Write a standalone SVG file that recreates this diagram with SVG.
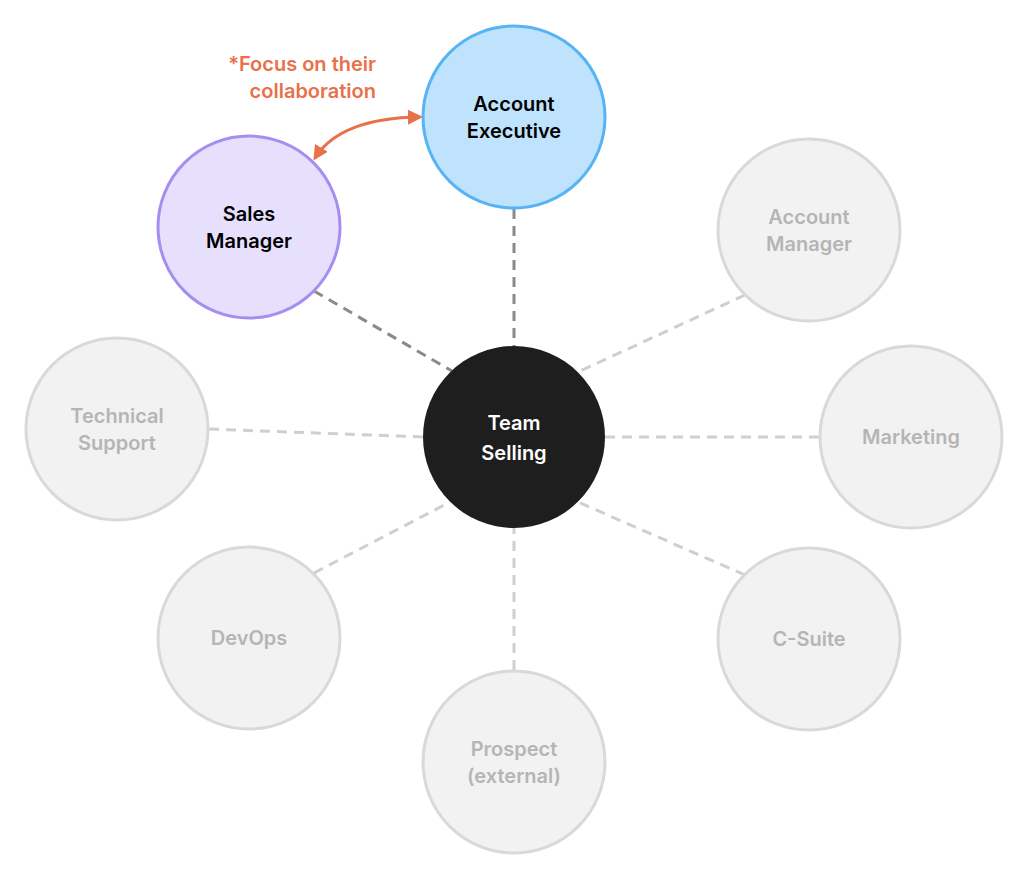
<svg xmlns="http://www.w3.org/2000/svg" width="1029" height="880" viewBox="0 0 1029 880">
<style>
text{font-family:Inter,"Noto Sans",sans-serif;font-size:20px;font-weight:600;text-anchor:middle}
.g circle{fill:#f2f2f2;stroke:#d9d9d9;stroke-width:3}
.g text{fill:#b5b5b5}
.l{stroke:#cfcfcf;stroke-width:3;stroke-dasharray:10 7}
.d{stroke:#8a8a8a}
</style>
<defs>
<marker id="a" viewBox="0 0 10 10" refX="8" refY="5" markerWidth="5" markerHeight="5" orient="auto-start-reverse"><path d="M0,0L10,5L0,10z" fill="#e8714a"/></marker>
</defs>
<rect width="1029" height="880" fill="#fff"/>
<g id="connectors">
<line class="l d" x1="514" y1="209" x2="514" y2="346"/>
<line class="l d" x1="314" y1="291" x2="452" y2="371"/>
<line class="l" x1="745" y1="295" x2="578" y2="372"/>
<line class="l" x1="819" y1="437" x2="605" y2="437"/>
<line class="l" x1="745" y1="575" x2="578" y2="502"/>
<line class="l" x1="514" y1="670" x2="514" y2="528"/>
<line class="l" x1="314" y1="573" x2="450" y2="502"/>
<line class="l" x1="209" y1="429" x2="423" y2="437"/>
<path d="M315,158 Q340,118 420,117" fill="none" stroke="#e8714a" stroke-width="3" marker-start="url(#a)" marker-end="url(#a)"/>
</g>
<g id="note"><text x="376" y="71" fill="#e8714a" style="text-anchor:end">*Focus on their</text><text x="376" y="98" fill="#e8714a" style="text-anchor:end">collaboration</text></g>
<g id="ae"><circle cx="514" cy="117" r="91" fill="#bfe3fc" stroke="#56b4f5" stroke-width="3"/><text x="514" y="111">Account</text><text x="514" y="138">Executive</text></g>
<g id="sm"><circle cx="249" cy="227" r="91" fill="#e6e0fc" stroke="#a58ef0" stroke-width="3"/><text x="249" y="221">Sales</text><text x="249" y="248">Manager</text></g>
<g id="ts"><circle cx="514" cy="437" r="91" fill="#1e1e1e"/><text x="514" y="430" fill="#fff" font-size="22">Team</text><text x="514" y="460" fill="#fff" font-size="22">Selling</text></g>
<g id="am" class="g"><circle cx="809" cy="230" r="91"/><text x="809" y="224">Account</text><text x="809" y="251">Manager</text></g>
<g id="mk" class="g"><circle cx="911" cy="437" r="91"/><text x="911" y="444">Marketing</text></g>
<g id="cs" class="g"><circle cx="809" cy="639" r="91"/><text x="809" y="646">C-Suite</text></g>
<g id="pr" class="g"><circle cx="514" cy="762" r="91"/><text x="514" y="756">Prospect</text><text x="514" y="783">(external)</text></g>
<g id="do" class="g"><circle cx="249" cy="638" r="91"/><text x="249" y="645">DevOps</text></g>
<g id="tsu" class="g"><circle cx="117" cy="429" r="91"/><text x="117" y="423">Technical</text><text x="117" y="450">Support</text></g>
</svg>
